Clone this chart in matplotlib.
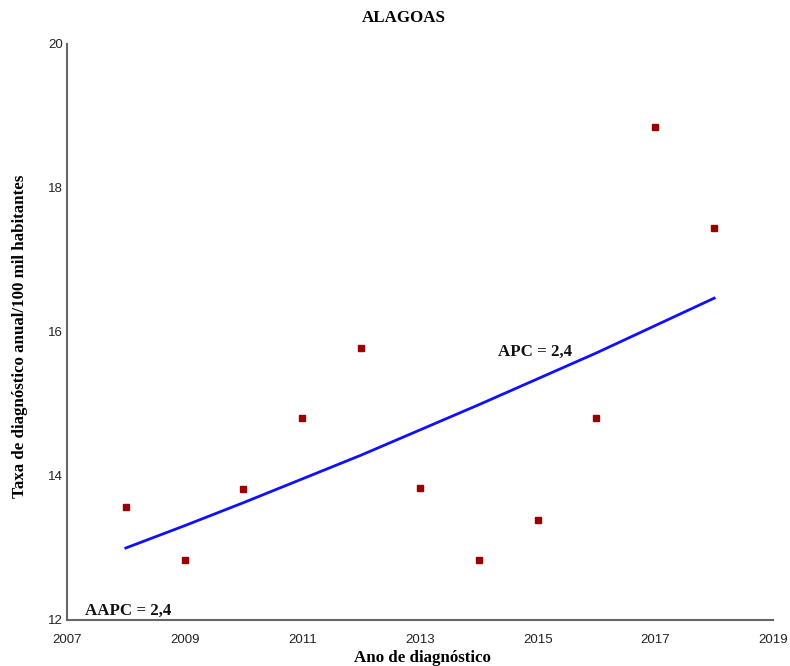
import matplotlib.pyplot as plt

# dados
anos = [2008, 2009, 2010, 2011, 2012, 2013, 2014, 2015, 2016, 2017, 2018]
taxa_observada = [13.57, 12.83, 13.82, 14.81, 15.78, 13.83, 12.83, 13.39, 14.81, 18.85, 17.44]
taxa_ajustada = [13.0, 13.31, 13.63, 13.96, 14.29, 14.64, 14.99, 15.35, 15.71, 16.09, 16.47]
xticks = [2007, 2009, 2011, 2013, 2015, 2017, 2019]
yticks = [12, 14, 16, 18, 20]

serif = "Liberation Serif"

fig = plt.figure(figsize=(7.9, 6.66), dpi=100)
ax = fig.add_axes([67 / 790, 1 - 620 / 666, (773 - 67) / 790, (620 - 44) / 666])

ax.plot(anos, taxa_ajustada, color="#1010ff", linewidth=2)
ax.plot(anos, taxa_observada, linestyle="none", marker="s", markersize=5,
        color="#990000")

ax.set_xlim(2007, 2019)
ax.set_ylim(12, 20)
ax.set_xticks(xticks)
ax.set_yticks(yticks)

for s in ["top", "right"]:
    ax.spines[s].set_visible(False)
for s in ["left", "bottom"]:
    ax.spines[s].set_color("#666666")
    ax.spines[s].set_linewidth(1.5)

ax.tick_params(length=0, pad=10, labelsize=9.5, colors="#222222",
               labelfontfamily="Liberation Sans")
ax.tick_params(axis="y", pad=3)

ax.text(2014.33, 15.67, "APC = 2,4", fontsize=12.2, fontweight="bold",
        family=serif, color="#111111")
ax.text(2007.3, 12.07, "AAPC = 2,4", fontsize=12.2, fontweight="bold",
        family=serif, color="#111111")

fig.text(404 / 790, 1 - 18 / 666, "ALAGOAS", ha="center", va="center",
         fontsize=12.2, fontweight="bold", family=serif)
fig.text(422 / 790, 1 - 658 / 666, "Ano de diagnóstico", ha="center",
         va="center", fontsize=12.2, fontweight="bold", family=serif)
fig.text(20 / 790, 1 - 336 / 666, "Taxa de diagnóstico anual/100 mil habitantes",
         ha="center", va="center", rotation=90, fontsize=12.2,
         fontweight="bold", family=serif)

fig.savefig("out.png", dpi=100)
